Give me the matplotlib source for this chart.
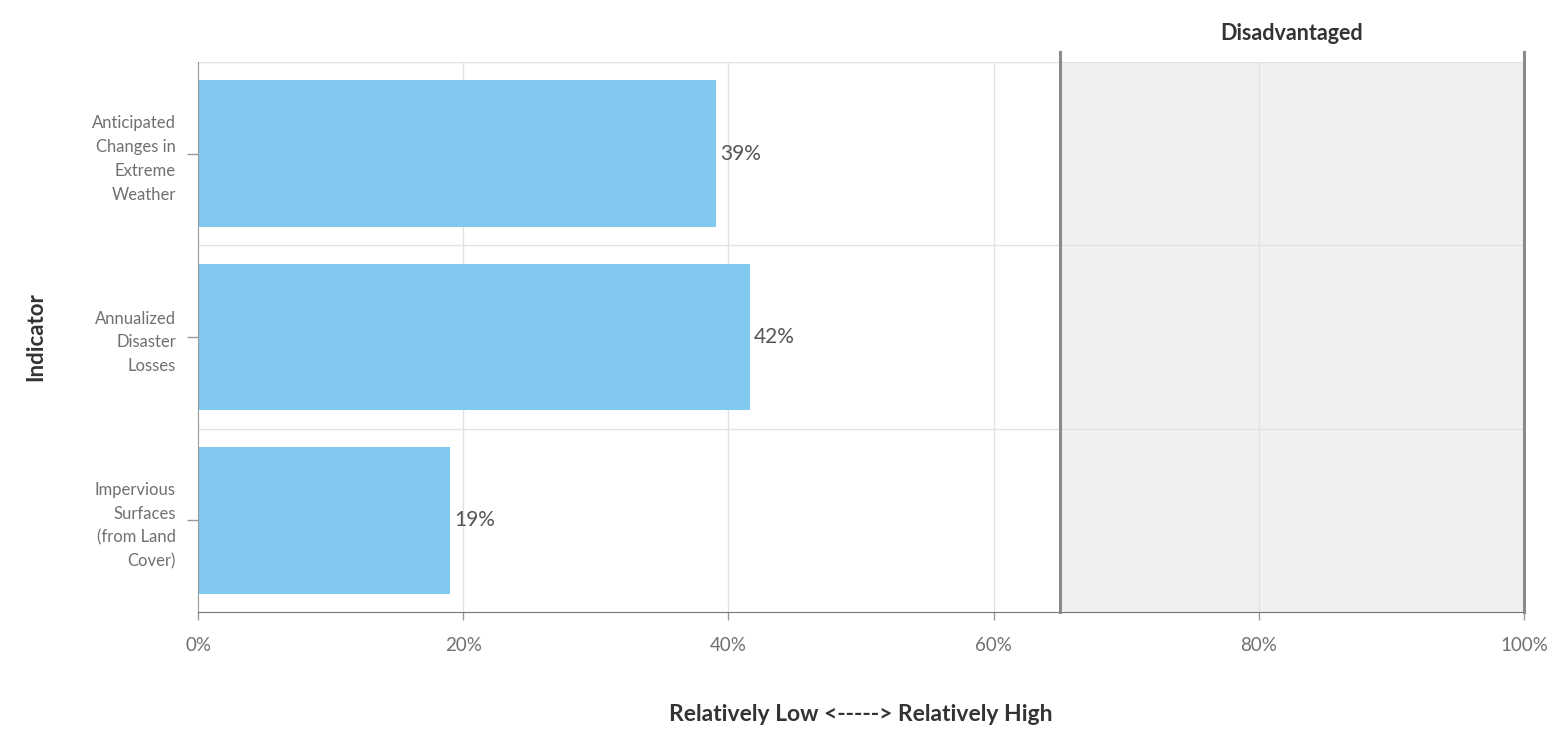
import matplotlib.pyplot as plt

indicators = ['Anticipated\nChanges in\nExtreme\nWeather',
              'Annualized\nDisaster\nLosses',
              'Impervious\nSurfaces\n(from Land\nCover)']
percentiles = [39.1, 41.6, 19.0]
threshold = 65
x_ticks = [0, 20, 40, 60, 80, 100]

bar_color = '#82C9EF'
label_gray = '#707070'
line_gray = '#8a8a8a'

plt.rcParams['font.family'] = ['Lato', 'DejaVu Sans']

fig = plt.figure(figsize=(15.52, 7.3), dpi=100)
ax = fig.add_axes([198 / 1552, 118 / 730, 1326 / 1552, 550 / 730])

# disadvantaged zone
ax.axvspan(threshold, 100, color='#F0F0F0', zorder=0, lw=0)
for xv in (threshold, 100):
    ax.axvline(xv, ymin=0, ymax=1.018, color=line_gray, lw=2.2, clip_on=False, zorder=3)
ax.text((threshold + 100) / 2, 1.052, 'Disadvantaged', transform=ax.get_xaxis_transform(),
        ha='center', va='center', fontsize=15.5, fontweight='bold', color='#333333')

ypos = list(range(len(indicators)))
ax.barh(ypos, percentiles, height=0.8, color=bar_color, zorder=2)
for y, v in zip(ypos, percentiles):
    ax.text(v + 0.3, y, f'{round(v)}%', va='center', ha='left', fontsize=15,
            color='#555555', zorder=4)

ax.set_xlim(0, 100)
ax.set_ylim(2.5, -0.5)

# grid
for xv in x_ticks[1:-1]:
    ax.axvline(xv, color='#e2e2e2', lw=1, zorder=1)
for yb in (0.5, 1.5):
    ax.axhline(yb, color='#e2e2e2', lw=1, zorder=1)

ax.set_yticks(ypos)
ax.set_yticklabels(indicators, fontsize=12, color=label_gray, linespacing=1.6,
                   ha='right')
ax.set_xticks(x_ticks)
ax.set_xticklabels([f'{t}%' for t in x_ticks], fontsize=13.5, color=label_gray)
ax.tick_params(axis='y', length=8, width=1, color='#999999', pad=8)
ax.tick_params(axis='x', length=6, width=1, color='#999999', pad=12)

for side in ('top', 'right'):
    ax.spines[side].set_visible(False)
ax.axhline(-0.5, color='#e2e2e2', lw=1, zorder=1)
ax.spines['left'].set_color('#999999')
ax.spines['bottom'].set_color('#777777')

ax.set_ylabel('Indicator', fontsize=16, fontweight='bold', color='#333333', labelpad=33)
ax.set_xlabel('Relatively Low <-----> Relatively High', fontsize=16.5,
              fontweight='bold', color='#333333', labelpad=36)

fig.savefig('out.png', dpi=100)
